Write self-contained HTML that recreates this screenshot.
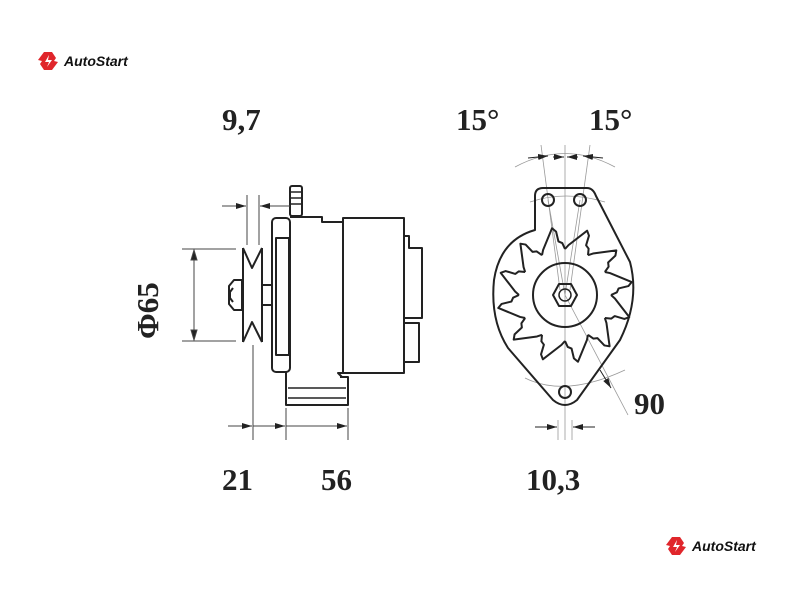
<!DOCTYPE html>
<html><head><meta charset="utf-8"><style>
body{margin:0;background:#fff;width:800px;height:600px;overflow:hidden}
svg{display:block}
.t{font-family:"Liberation Serif",serif;font-weight:bold;font-size:31px;fill:#222}
.lg{font-family:"Liberation Sans",sans-serif;font-style:italic;font-weight:bold;font-size:14px;fill:#111}
</style></head><body>
<svg width="800" height="600" viewBox="0 0 800 600" xmlns="http://www.w3.org/2000/svg">
<defs>
<marker id="a" markerWidth="10" markerHeight="6" refX="10" refY="3" orient="auto"><path d="M0,0 L10,3 L0,6z" fill="#222"/></marker>
<polyline id="bl" points="0,-46 3.49,-49.88 22.14,-64.29 23.97,-59.34 21.1,-49.71 23.61,-46.33 23,-39.84" fill="none" stroke="#222" stroke-width="2" stroke-linejoin="round"/>
</defs>
<!-- logos -->
<g transform="translate(38,52)">
<path d="M6,0 L14,0 L18,6 L16,9 L20,10 L14,18 L6,18 L2,12 L4,9 L0,8z" fill="#e0262b"/>
<path d="M11,3 L7,10 L11,10 L9,15 L14,8 L10,8z" fill="#fff"/>
<text class="lg" x="26" y="14">AutoStart</text></g>
<g transform="translate(666,537)">
<path d="M6,0 L14,0 L18,6 L16,9 L20,10 L14,18 L6,18 L2,12 L4,9 L0,8z" fill="#e0262b"/>
<path d="M11,3 L7,10 L11,10 L9,15 L14,8 L10,8z" fill="#fff"/>
<text class="lg" x="26" y="14">AutoStart</text></g>

<!-- labels -->
<text class="t" x="222" y="130">9,7</text>
<text class="t" x="456" y="130">15°</text>
<text class="t" x="589" y="130">15°</text>
<text class="t" x="222" y="490">21</text>
<text class="t" x="321" y="490">56</text>
<text class="t" x="526" y="490">10,3</text>
<text class="t" x="634" y="414">90</text>
<text class="t" transform="translate(158,339) rotate(-90)">Φ65</text>

<!-- left view -->
<g fill="none" stroke="#222" stroke-width="2" stroke-linejoin="round">
<rect x="290" y="186" width="12" height="30" rx="2"/>
<path d="M291,192h10M291,198h10M291,204h10" stroke-width="1.5"/>
<rect x="272" y="218" width="18" height="154" rx="4"/>
<rect x="276" y="238" width="13" height="117"/>
<path d="M290,217 H322 V222 H343 V373 H338 L342,377"/>
<rect x="343" y="218" width="61" height="155"/>
<path d="M404,236 H409 V248 H422 V318 H404"/>
<rect x="404" y="323" width="15" height="39"/>
<path d="M286,372 V405 H348 V377 H340"/>
<path d="M288,388 H346 M288,398 H346" stroke-width="1.5"/>
<path d="M243,248 L252,268 L262,248 M243,248 V342 M262,248 V342 M243,342 L252,322 L262,342"/>
<rect x="262" y="285" width="10" height="20"/>
<path d="M234,280 H242 V310 H234 L229,304 V286z"/>
<path d="M233,288 L230,292 V298 L233,302"/>
</g>
<g stroke="#444" stroke-width="1" fill="none">
<path d="M182,249 H236 M182,341 H236"/>
<line x1="194" y1="252" x2="194" y2="338"/>
<path d="M194,250 l-3,10 h6z M194,340 l-3,-10 h6z" fill="#222"/>
<path d="M247,195 V245 M259,195 V245"/>
<line x1="222" y1="206" x2="246" y2="206" marker-end="url(#a)"/>
<line x1="290" y1="206" x2="260" y2="206" marker-end="url(#a)"/>
<path d="M253,345 V440 M286,408 V440 M348,408 V440"/>
<line x1="228" y1="426" x2="252" y2="426" marker-end="url(#a)"/>
<line x1="253" y1="426" x2="285" y2="426" marker-end="url(#a)"/>
<line x1="286" y1="426" x2="347" y2="426" marker-end="url(#a)"/>
</g>

<!-- right view -->
<g stroke="#999" stroke-width="0.8" fill="none">
<line x1="565" y1="145" x2="565" y2="440"/>
<line x1="541" y1="145" x2="560" y2="290"/>
<line x1="590" y1="145" x2="570" y2="290"/>
<line x1="548" y1="200" x2="565" y2="295"/><line x1="580" y1="200" x2="565" y2="295"/>
<path d="M515,167 Q565,140 615,167"/>
<path d="M530,202 Q565,190 605,202"/>
<path d="M525,378 Q565,398 625,370"/>
<line x1="565" y1="295" x2="628" y2="415"/>
<path d="M558,420 V440 M572,420 V440"/>
</g>
<g stroke="#222" stroke-width="1" fill="none">
<line x1="528" y1="158" x2="548" y2="156" marker-end="url(#a)"/>
<line x1="603" y1="158" x2="583" y2="156" marker-end="url(#a)"/>
<line x1="553" y1="157" x2="564" y2="157" marker-end="url(#a)"/>
<line x1="578" y1="157" x2="567" y2="157" marker-end="url(#a)"/>
<line x1="535" y1="427" x2="557" y2="427" marker-end="url(#a)"/>
<line x1="595" y1="427" x2="573" y2="427" marker-end="url(#a)"/>
<line x1="600" y1="370" x2="611" y2="388" marker-end="url(#a)"/>
</g>
<g fill="none" stroke="#222" stroke-width="2" stroke-linejoin="round">
<path d="M535,230 V196 Q535,188 543,188 H587 Q593,188 596,196 L630,262 Q640,300 620,340 L577,400 Q565,410 553,400 L508,348 Q490,320 494,280 Q500,240 535,230z"/>
<circle cx="548" cy="200" r="6"/><circle cx="580" cy="200" r="6"/><circle cx="565" cy="392" r="6"/>
<circle cx="565" cy="295" r="32"/>
<path d="M559,284 H571 L577,295 L571,306 H559 L553,295z"/>
<circle cx="565" cy="295" r="6" stroke-width="1.5"/>
</g>
<g transform="translate(565,295)">
<use href="#bl" transform="rotate(0)"/><use href="#bl" transform="rotate(30)"/><use href="#bl" transform="rotate(60)"/>
<use href="#bl" transform="rotate(90)"/><use href="#bl" transform="rotate(120)"/><use href="#bl" transform="rotate(150)"/>
<use href="#bl" transform="rotate(180)"/><use href="#bl" transform="rotate(210)"/><use href="#bl" transform="rotate(240)"/>
<use href="#bl" transform="rotate(270)"/><use href="#bl" transform="rotate(300)"/><use href="#bl" transform="rotate(330)"/>
</g>
</svg>
</body></html>
